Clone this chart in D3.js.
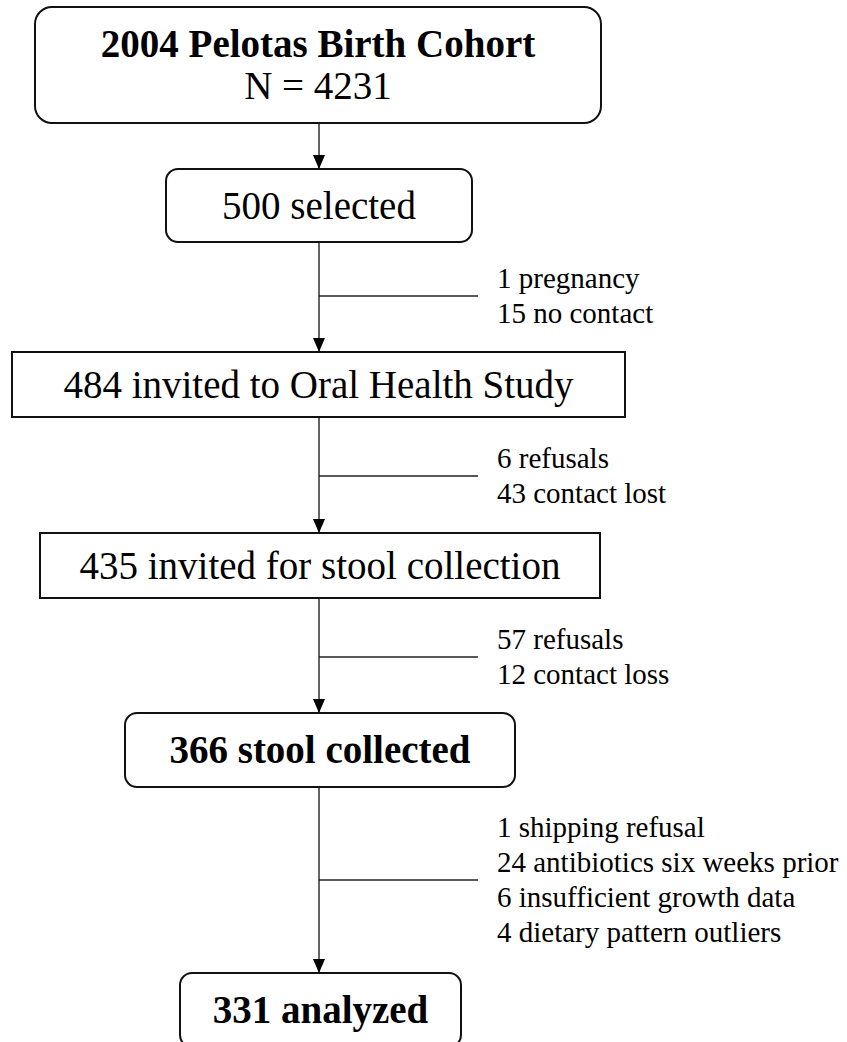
<!DOCTYPE html>
<html>
<head>
<meta charset="utf-8">
<script src="https://cdn.jsdelivr.net/npm/d3@7"></script>
<style>
  html, body { margin: 0; padding: 0; background: #fff; }
  svg { display: block; }
  text { font-family: "Liberation Serif", "Times New Roman", serif; fill: #000; }
</style>
</head>
<body>
<div id="chart"></div>
<script>
// flow stages, top to bottom
var stageLabels = [
	"2004 Pelotas Birth Cohort",
	"500 selected",
	"484 invited to Oral Health Study",
	"435 invited for stool collection",
	"366 stool collected",
	"331 analyzed"
];
var cohortSize = "N = 4231";

// exclusions listed beside the arrow that leaves each stage
var exclusionLabels = [
	["1 pregnancy", "15 no contact"],
	["6 refusals", "43 contact lost"],
	["57 refusals", "12 contact loss"],
	["1 shipping refusal", "24 antibiotics six weeks prior", "6 insufficient growth data", "4 dietary pattern outliers"]
];

// box geometry (layout only)
var boxes = [
	{x0: 35,  x1: 601, y0: 7,   y1: 123,  r: 17, bold: true},
	{x0: 166, x1: 472, y0: 169, y1: 242,  r: 12, bold: false},
	{x0: 12,  x1: 625, y0: 352, y1: 417,  r: 0,  bold: false},
	{x0: 40,  x1: 600, y0: 533, y1: 598,  r: 0,  bold: false},
	{x0: 125, x1: 515, y0: 713, y1: 787,  r: 12, bold: true},
	{x0: 180, x1: 461, y0: 973, y1: 1047, r: 12, bold: true}
];
var sideY = [296, 476, 657, 880];

var W = 847, H = 1042;
var spineX = 319, sideEnd = 478, sideText = 497;
var boxFont = 39, sideFont = 29, sideLine = 35;

var svg = d3.select("#chart").append("svg")
	.attr("width", W)
	.attr("height", H);

svg.append("defs").append("marker")
	.attr("id", "arrow")
	.attr("viewBox", "0 0 12 14")
	.attr("refX", 6)
	.attr("refY", 14)
	.attr("markerWidth", 12)
	.attr("markerHeight", 14)
	.attr("markerUnits", "userSpaceOnUse")
	.attr("orient", "0")
	.append("path")
	.attr("d", "M0,0 L12,0 L6,14 Z")
	.attr("fill", "#000");

// connectors between stages
var links = d3.range(stageLabels.length - 1);
svg.selectAll(".link")
	.data(links)
	.enter()
	.append("line")
	.attr("class", "link")
	.attr("x1", spineX)
	.attr("x2", spineX)
	.attr("y1", function(i){ return boxes[i].y1; })
	.attr("y2", function(i){ return boxes[i + 1].y0; })
	.attr("stroke", "#222")
	.attr("stroke-width", 1.4)
	.attr("marker-end", "url(#arrow)");

// side branches with exclusion lists
var side = svg.selectAll(".side")
	.data(exclusionLabels)
	.enter()
	.append("g")
	.attr("class", "side");

side.append("line")
	.attr("x1", spineX)
	.attr("x2", sideEnd)
	.attr("y1", function(d, i){ return sideY[i]; })
	.attr("y2", function(d, i){ return sideY[i]; })
	.attr("stroke", "#222")
	.attr("stroke-width", 1.4);

side.each(function(lines, i){
	var top = sideY[i] - (lines.length - 1) * sideLine / 2;
	d3.select(this).selectAll("text")
		.data(lines)
		.enter()
		.append("text")
		.attr("x", sideText)
		.attr("y", function(d, j){ return top + j * sideLine; })
		.attr("dy", "0.33em")
		.attr("font-size", sideFont)
		.text(function(d){ return d; });
});

// stage boxes
var stage = svg.selectAll(".stage")
	.data(stageLabels)
	.enter()
	.append("g")
	.attr("class", "stage");

stage.append("rect")
	.attr("x", function(d, i){ return boxes[i].x0; })
	.attr("y", function(d, i){ return boxes[i].y0; })
	.attr("width", function(d, i){ return boxes[i].x1 - boxes[i].x0; })
	.attr("height", function(d, i){ return boxes[i].y1 - boxes[i].y0; })
	.attr("rx", function(d, i){ return boxes[i].r; })
	.attr("fill", "#fff")
	.attr("stroke", "#111")
	.attr("stroke-width", 2);

stage.append("text")
	.attr("x", function(d, i){ return (boxes[i].x0 + boxes[i].x1) / 2; })
	.attr("y", function(d, i){
		var b = boxes[i];
		return i === 0 ? 57 : (b.y0 + b.y1) / 2 + 13;
	})
	.attr("text-anchor", "middle")
	.attr("font-size", boxFont)
	.attr("font-weight", function(d, i){ return boxes[i].bold ? "bold" : "normal"; })
	.text(function(d){ return d; });

svg.append("text")
	.attr("x", (boxes[0].x0 + boxes[0].x1) / 2)
	.attr("y", 99)
	.attr("text-anchor", "middle")
	.attr("font-size", boxFont)
	.text(cohortSize);
</script>
</body>
</html>
